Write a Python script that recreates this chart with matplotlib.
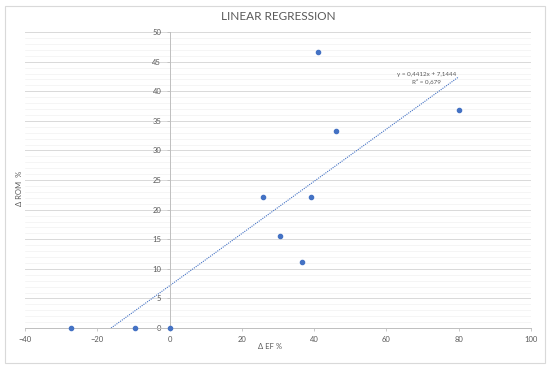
import matplotlib
matplotlib.use("Agg")
import matplotlib.pyplot as plt
import numpy as np
from matplotlib.patches import Rectangle

plt.rcParams['font.family'] = ['Lato', 'DejaVu Sans']

# data
ef = [41.1, 80.0, 46.1, 25.8, 39.2, 30.6, 36.7, -27.2, -9.7, 0.0]
rom = [46.7, 36.8, 33.3, 22.2, 22.2, 15.6, 11.1, 0.0, 0.0, 0.0]
slope, intercept = 0.4412, 7.1444
eq_text = "y = 0,4412x + 7,1444\nR² = 0,679"

blue = "#4472C4"
grey = "#595959"

fig = plt.figure(figsize=(5.5, 3.69), dpi=100)
ax = fig.add_axes([0.0455, 0.111, 0.92, 0.802])

# chart border like excel
fig.patches.append(Rectangle((0.009, 0.015), 0.982, 0.97, transform=fig.transFigure,
                             fill=False, edgecolor="#d9d9d9", lw=0.8))

ax.set_xlim(-40, 100)
ax.set_ylim(0, 50)
ax.set_xticks(np.arange(-40, 101, 20))
ax.set_yticks(np.arange(0, 51, 5))
ax.set_yticks(np.arange(0, 51, 1), minor=True)
ax.grid(axis="y", which="major", color="#d9d9d9", lw=0.7)
ax.grid(axis="y", which="minor", color="#f2f2f2", lw=0.5)
ax.set_axisbelow(True)

for s in ["top", "right"]:
    ax.spines[s].set_visible(False)
ax.spines["left"].set_position(("data", 0))
ax.spines["left"].set_color("#bfbfbf")
ax.spines["bottom"].set_color("#bfbfbf")
ax.spines["left"].set_linewidth(0.7)
ax.spines["bottom"].set_linewidth(0.7)
ax.tick_params(axis="both", which="major", labelsize=5.5, labelcolor=grey,
               color="#bfbfbf", length=2.5, width=0.6)
ax.tick_params(axis="y", which="minor", length=0)

# trendline clipped to the visible range
x0 = -intercept / slope
xs = np.array([x0, max(ef)])
ax.plot(xs, slope * xs + intercept, color=blue, lw=0.8, ls=(0, (1, 1)))

ax.scatter(ef, rom, s=9, color=blue, zorder=3, clip_on=False)

ax.text(71, 42.3, eq_text, ha="center", va="center", fontsize=4.5,
        color=grey, linespacing=1.3)

ax.set_title("LINEAR REGRESSION", fontsize=8.5, color=grey, pad=9)
fig.text(0.491, 0.06, "Δ EF %", ha="center", va="center", fontsize=5.5, color=grey)
fig.text(0.036, 0.49, "Δ ROM  %", ha="center", va="center", rotation=90,
         fontsize=5.5, color=grey)

fig.savefig("out.png", dpi=100)
